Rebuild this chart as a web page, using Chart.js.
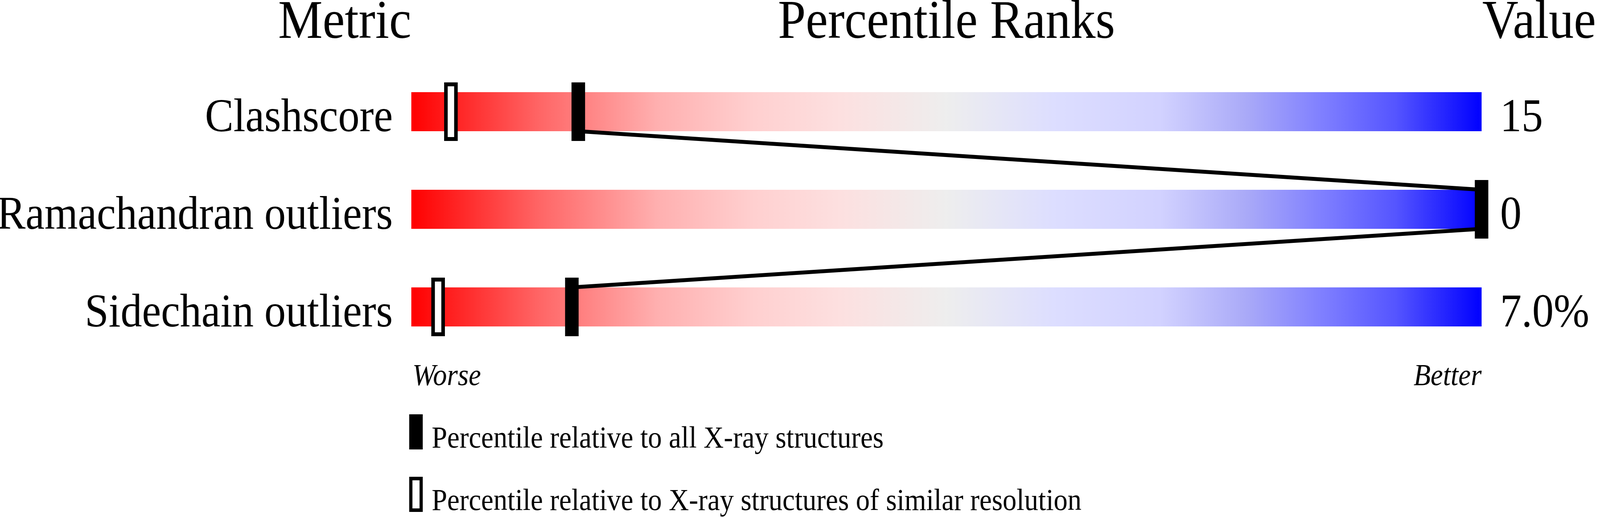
<!DOCTYPE html>
<html>
<head>
<meta charset="utf-8">
<script src="https://cdn.jsdelivr.net/npm/chart.js@4/dist/chart.umd.min.js"></script>
<style>
html,body{margin:0;padding:0;background:#fff;overflow:hidden;}
#wrap{width:4485px;height:1324px;transform-origin:0 0;}
</style>
</head>
<body>
<div id="wrap"><canvas id="c" width="4485" height="1324"></canvas></div>
<script>
// ---- data ----
const metrics = ['Clashscore', 'Ramachandran outliers', 'Sidechain outliers'];
const valueLabels = ['15', '0', '7.0%'];
const percentileAll = [15.6, 100, 15.0];        // filled markers
const percentileSimilar = [3.7, 100, 2.5];      // hollow markers
const headers = ['Metric', 'Percentile Ranks', 'Value'];
const scaleEnds = ['Worse', 'Better'];
const legendTexts = ['Percentile relative to all X-ray structures',
                     'Percentile relative to X-ray structures of similar resolution'];

// fit the 4485-wide drawing into the viewport if the viewport is narrower
const W = 4485, H = 1324;
const sx = Math.min(1, window.innerWidth / W);
const sy = Math.min(1, window.innerHeight / H);
document.getElementById('wrap').style.transform = 'scale(' + sx + ',' + sy + ')';

// ---- styles ----
const FONT = '"Liberation Serif", "Times New Roman", serif';
const BAR_FRACTION = 0.4;
const MARK_W = 38, MARK_H = 150, BORDER = 10;

function makeMarker(hollow, w, h, b) {
  const c = document.createElement('canvas');
  c.width = w; c.height = h;
  const g = c.getContext('2d');
  g.fillStyle = '#000';
  g.fillRect(0, 0, w, h);
  if (hollow) { g.fillStyle = '#fff'; g.fillRect(b, b, w - 2 * b, h - 2 * b); }
  return c;
}
const filledMark = makeMarker(false, MARK_W, MARK_H, BORDER);
const hollowMark = makeMarker(true, MARK_W, MARK_H, BORDER);

const gradStops = [
  [0.00, '#ff0000'], [0.12, '#ff6666'], [0.23, '#ffb0b0'], [0.32, '#ffd0d0'],
  [0.40, '#fde0e0'], [0.50, '#eeeeee'], [0.60, '#dddeff'], [0.70, '#d2d2ff'],
  [0.78, '#aaaaf8'], [0.85, '#8080ff'], [0.92, '#5555ff'], [1.00, '#0000ff']
];
function barGradient(ctx) {
  const chart = ctx.chart; const a = chart.chartArea;
  if (!a) return '#eee';
  const g = chart.ctx.createLinearGradient(a.left, 0, a.right, 0);
  gradStops.forEach(s => g.addColorStop(s[0], s[1]));
  return g;
}

// connecting line through the filled markers, from bar edge to bar edge
const edge = BAR_FRACTION / 2;
const linePts = [];
percentileAll.forEach((p, i) => {
  if (i > 0) linePts.push({x: p, y: i - edge});
  if (i < percentileAll.length - 1) linePts.push({x: p, y: i + edge});
});

const textPlugin = {
  id: 'texts',
  afterDraw(chart) {
    const ctx = chart.ctx; const a = chart.chartArea;
    const ys = chart.scales.yl;
    ctx.save();
    ctx.fillStyle = '#000';
    ctx.textBaseline = 'alphabetic';
    ctx.font = '140px ' + FONT;
    ctx.textAlign = 'right'; ctx.fillText(headers[0], a.left, 97);
    ctx.textAlign = 'center'; ctx.fillText(headers[1], (a.left + a.right) / 2, 97);
    ctx.textAlign = 'left'; ctx.fillText(headers[2], a.right + 2, 97);
    ctx.font = '120px ' + FONT;
    metrics.forEach((m, i) => {
      const y = ys.getPixelForValue(i) + 50;
      ctx.textAlign = 'right'; ctx.fillText(m, a.left - 52, y);
      ctx.textAlign = 'left'; ctx.fillText(valueLabels[i], a.right + 52, y);
    });
    ctx.font = 'italic 78px ' + FONT;
    ctx.textAlign = 'left'; ctx.fillText(scaleEnds[0], a.left + 3, 986);
    ctx.textAlign = 'right'; ctx.fillText(scaleEnds[1], a.right, 986);
    // legend
    ctx.font = '78px ' + FONT;
    ctx.textAlign = 'left';
    ctx.drawImage(makeMarker(false, 38, 90, 9), 1147, 1061);
    ctx.fillText(legendTexts[0], 1210, 1146);
    ctx.drawImage(makeMarker(true, 38, 90, 9), 1147, 1221);
    ctx.fillText(legendTexts[1], 1210, 1306);
    ctx.restore();
  }
};

new Chart(document.getElementById('c'), {
  type: 'bar',
  data: {
    labels: metrics,
    datasets: [
      {
        type: 'scatter', label: 'all', order: 0,
        data: percentileAll.map((p, i) => ({x: p, y: i})),
        yAxisID: 'yl', pointStyle: filledMark, pointRadius: 10, clip: false,
        pointHoverRadius: 10
      },
      {
        type: 'scatter', label: 'similar', order: 1,
        data: percentileSimilar.map((p, i) => ({x: p, y: i})),
        yAxisID: 'yl', pointStyle: hollowMark, pointRadius: 10, clip: false
      },
      {
        type: 'line', label: 'link', order: 2,
        data: linePts, yAxisID: 'yl',
        borderColor: '#000', borderWidth: 10, pointRadius: 0, fill: false,
        tension: 0, clip: false, borderJoinStyle: 'miter'
      },
      {
        type: 'bar', label: 'range', order: 3,
        data: metrics.map(() => [0, 100]), yAxisID: 'y',
        backgroundColor: barGradient, borderWidth: 0, grouped: false,
        barPercentage: BAR_FRACTION, categoryPercentage: 1
      }
    ]
  },
  options: {
    indexAxis: 'y',
    responsive: false,
    animation: false,
    devicePixelRatio: 1,
    events: [],
    layout: {padding: {left: 1153, right: 332, top: 161, bottom: 413}},
    plugins: {legend: {display: false}, tooltip: {enabled: false}},
    scales: {
      x: {type: 'linear', min: 0, max: 100, display: false, offset: false},
      y: {type: 'category', display: false, offset: true},
      yl: {type: 'linear', min: -0.5, max: 2.5, reverse: true, display: false, offset: false}
    }
  },
  plugins: [textPlugin]
});
</script>
</body>
</html>
